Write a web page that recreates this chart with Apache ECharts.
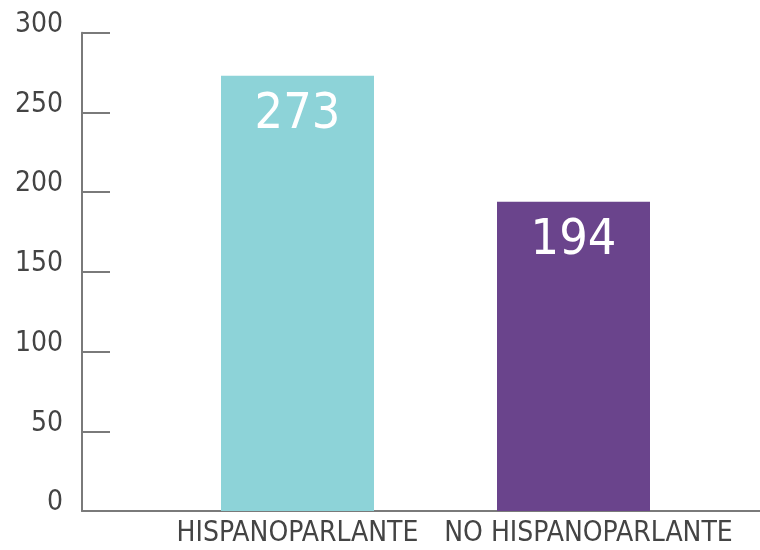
<!DOCTYPE html>
<html><head><meta charset="utf-8">
<script src="https://cdn.jsdelivr.net/npm/echarts@6/dist/echarts.min.js"></script>
<style>html,body{margin:0;padding:0;background:#fff}#c{width:760px;height:550px}</style>
</head><body><div id="c"></div>
<script>
const categories = ['HISPANOPARLANTE', 'NO HISPANOPARLANTE'];
const values = [273, 194];
const barColors = ['#8dd3d8', '#6a448c'];
const yTicks = [0, 50, 100, 150, 200, 250, 300];

const chart = echarts.init(document.getElementById('c'));
const narrow = '"Liberation Sans Narrow", "DejaVu Sans Condensed", "Roboto Condensed", sans-serif';
const labelShift = [0, 30];
chart.setOption({
  animation: false,
  grid: [
    {left: 82, right: 0, top: 32.7, bottom: 39},
    {left: 159.5, width: 552, top: 32.7, bottom: 39}
  ],
  xAxis: [
    {gridIndex: 0, type: 'value', min: 0, max: 1, axisLine: {show: true, onZero: false, lineStyle: {color: '#7a7a7a', width: 2}},
     axisTick: {show: false}, axisLabel: {show: false}, splitLine: {show: false}},
    {gridIndex: 1, type: 'category',
     data: categories.map((c, i) => ({value: c, textStyle: {padding: [0, 0, 0, labelShift[i]]}})),
     axisLine: {show: false}, axisTick: {show: false},
     axisLabel: {color: '#444', fontFamily: narrow, fontSize: 28, margin: 9, interval: 0}}
  ],
  yAxis: [
    {gridIndex: 0, type: 'value', min: yTicks[0], max: yTicks[yTicks.length - 1], interval: 50,
     axisLine: {show: true, lineStyle: {color: '#7a7a7a', width: 2}},
     axisTick: {show: true, inside: true, length: 28, lineStyle: {color: '#7a7a7a', width: 2}},
     axisLabel: {color: '#444', fontFamily: narrow, fontSize: 28, margin: 19, verticalAlign: 'bottom', lineHeight: 16},
     splitLine: {show: false}},
    {gridIndex: 1, type: 'value', min: 0, max: 300, show: false}
  ],
  series: [{
    type: 'bar', xAxisIndex: 1, yAxisIndex: 1, barWidth: 153,
    data: values.map((v, i) => ({value: v, itemStyle: {color: barColors[i]}})),
    label: {show: true, position: 'insideTop', distance: 14, color: '#fff', fontFamily: narrow, fontSize: 50}
  }]
});
</script></body></html>
